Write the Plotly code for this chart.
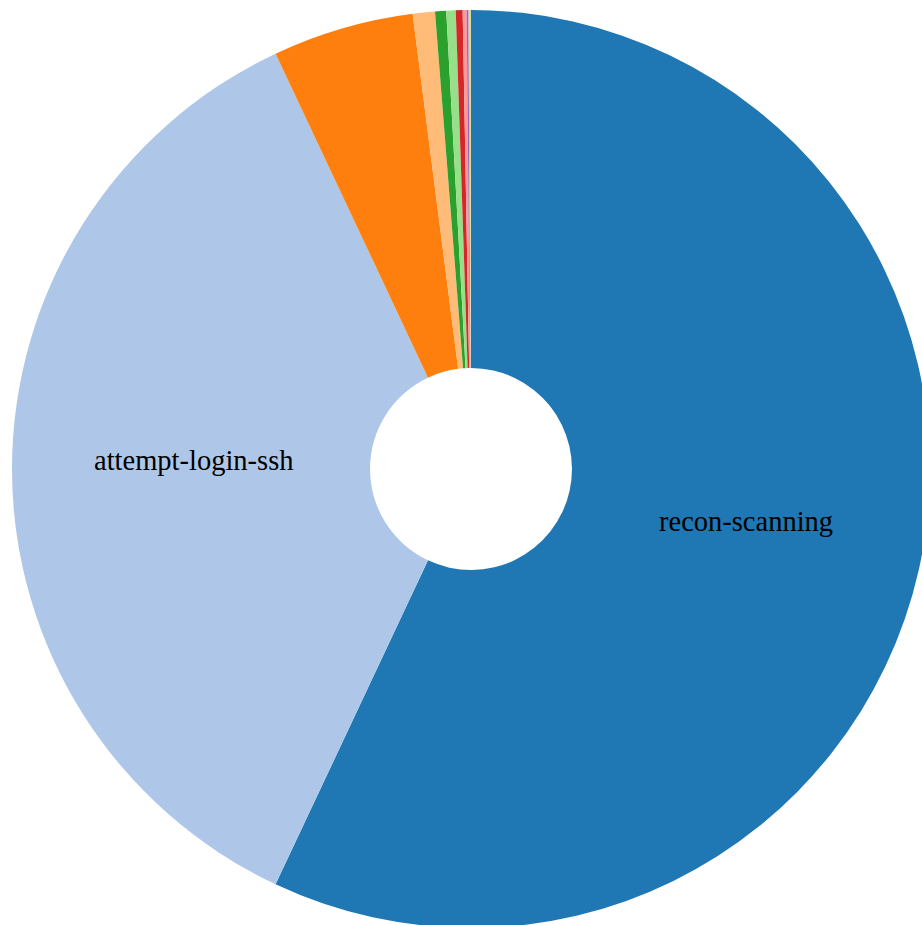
import math
import plotly.graph_objects as go

categories = [
    "recon-scanning", "attempt-login-ssh", "attempt-exploit-web", "attempt-login-telnet",
    "malware-download", "attempt-login-rdp", "attempt-exploit-smb", "attempt-login-ftp",
    "recon-crawler", "attempt-login-mysql", "other",
]
values = [57.0, 36.0, 4.97, 0.78, 0.39, 0.33, 0.24, 0.14, 0.06, 0.04, 0.05]
colors = ["#1f77b4", "#aec7e8", "#ff7f0e", "#ffbb78", "#2ca02c", "#98df8a",
          "#d62728", "#ff9896", "#9467bd", "#c5b0d5", "#dbdb8d"]
shown = ["recon-scanning", "attempt-login-ssh"]
HOLE = 0.22

fig = go.Figure(go.Pie(
    labels=categories, values=values, textinfo="none",
    sort=False, direction="clockwise", rotation=0, hole=HOLE,
    marker=dict(colors=colors, line=dict(width=0)),
    hoverinfo="label+value", showlegend=False,
))

# labels at arc centroids (baseline on the centroid), derived from the data
total = sum(values)
cum = 0.0
annotations = []
rmid = (1 + HOLE) / 2
for cat, v in zip(categories, values):
    a = 2 * math.pi * (cum + v / 2) / total
    cum += v
    if cat in shown:
        annotations.append(dict(
            x=0.5 + 0.5 * rmid * math.sin(a), y=0.5 + 0.5 * rmid * math.cos(a),
            xref="paper", yref="paper", text=cat, showarrow=False,
            xanchor="center", yanchor="middle", yshift=9, xshift=2,
            font=dict(family="Liberation Serif", size=28.5, color="black"),
        ))

fig.update_layout(
    width=942, height=938,
    margin=dict(l=12, r=12, t=10, b=10),
    paper_bgcolor="white", plot_bgcolor="white",
    annotations=annotations,
)
fig.write_html("out.html", config={"displayModeBar": False},
               post_script="document.body.style.margin='0';document.body.style.overflow='hidden';document.documentElement.style.overflow='hidden';")
